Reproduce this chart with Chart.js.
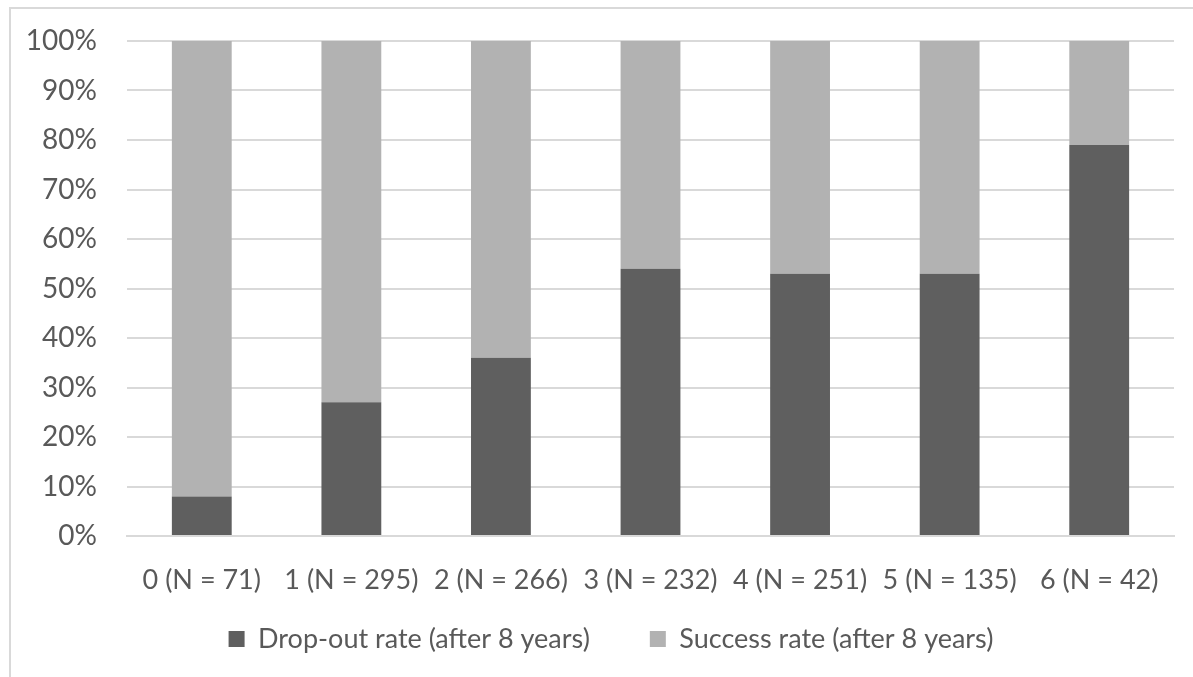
<!DOCTYPE html>
<html>
<head>
<meta charset="utf-8">
<script src="https://cdn.jsdelivr.net/npm/chart.js@4"></script>
<style>
  html, body { margin: 0; padding: 0; background: #ffffff; }
  #wrap { position: relative; width: 1193px; height: 677px; overflow: hidden; }
  #frame { position: absolute; left: 9px; top: 7px; width: 1220px; height: 720px;
           border: 2px solid #d9d9d9; box-sizing: border-box; pointer-events: none; }
  canvas { position: absolute; left: 0; top: 0; }
</style>
</head>
<body>
<div id="wrap">
  <div id="frame"></div>
  <canvas id="chart" width="1193" height="677"></canvas>
</div>
<script>
// Number of study problems per group, with group size
const categories = ['0 (N = 71)', '1 (N = 295)', '2 (N = 266)', '3 (N = 232)', '4 (N = 251)', '5 (N = 135)', '6 (N = 42)'];
const dropOutRate = [8, 27, 36, 54, 53, 53, 79];
const successRate = [92, 73, 64, 46, 47, 47, 21];
const seriesNames = ['Drop-out rate (after 8 years)', 'Success rate (after 8 years)'];

const FONT = 'Lato, "Open Sans", sans-serif';
const TEXT = '#595959';

// Keep the legend row just under the category labels, centred a little right of the canvas middle
const legendPlacement = {
  id: 'legendPlacement',
  afterLayout(chart) {
    const lg = chart.legend;
    const h = lg.bottom - lg.top;
    lg.left = 48;
    lg.top = 565.5;
    lg.bottom = lg.top + h;
  }
};

new Chart(document.getElementById('chart'), {
  type: 'bar',
  data: {
    labels: categories,
    datasets: [
      { label: seriesNames[0], data: dropOutRate, backgroundColor: '#5f5f5f',
        barPercentage: 0.4, categoryPercentage: 1.0 },
      { label: seriesNames[1], data: successRate, backgroundColor: '#b2b2b2',
        barPercentage: 0.4, categoryPercentage: 1.0 }
    ]
  },
  plugins: [legendPlacement],
  options: {
    responsive: false,
    animation: false,
    devicePixelRatio: 1,
    layout: { padding: { left: 0, right: 19, top: 41, bottom: -44.4 } },
    plugins: {
      tooltip: { enabled: false },
      legend: {
        position: 'bottom',
        labels: {
          boxWidth: 16, boxHeight: 16, padding: 60,
          color: TEXT, font: { family: FONT, size: 27 }
        }
      }
    },
    scales: {
      x: {
        stacked: true,
        afterFit: (s) => { s.height = 88.4; },
        grid: { display: false, drawTicks: false },
        border: { display: true, color: '#d9d9d9', width: 2 },
        ticks: { color: TEXT, font: { family: FONT, size: 27 }, padding: 28,
                 maxRotation: 0, autoSkip: false }
      },
      y: {
        stacked: true,
        min: 0, max: 100,
        afterFit: (s) => { s.width = 127; s.paddingTop = 0; s.paddingBottom = 0; },
        grid: { color: '#d9d9d9', lineWidth: 2, drawTicks: false },
        border: { display: false },
        ticks: { stepSize: 10, color: TEXT, padding: 30,
                 font: { family: FONT, size: 28 },
                 callback: (v) => v + '%' }
      }
    }
  }
});
</script>
</body>
</html>
